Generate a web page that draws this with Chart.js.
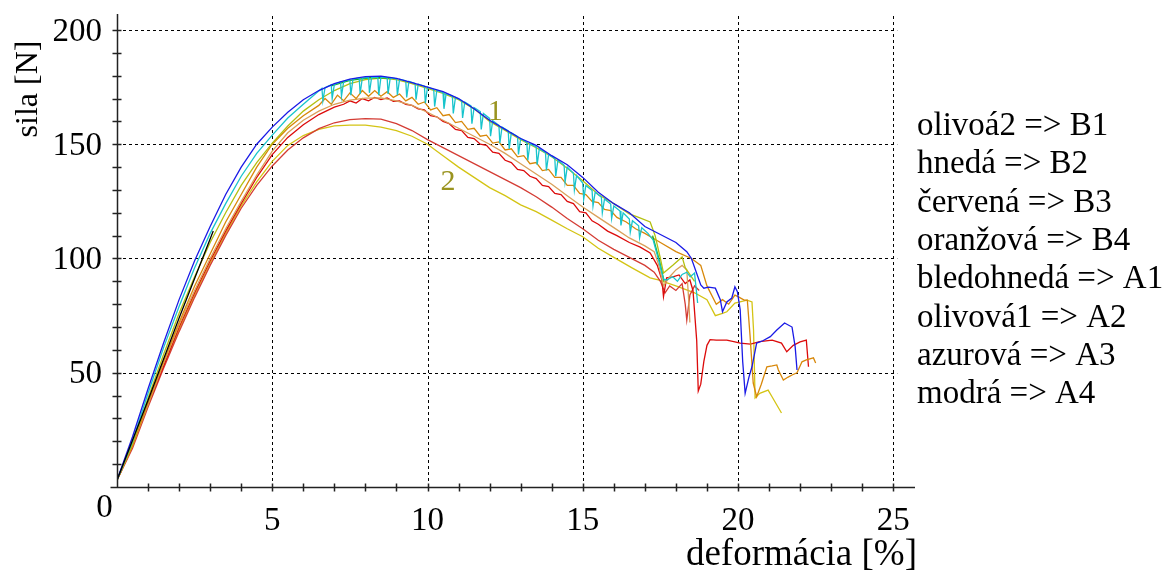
<!DOCTYPE html>
<html>
<head>
<meta charset="utf-8">
<script src="https://cdn.jsdelivr.net/npm/chart.js@4/dist/chart.umd.min.js"></script>
<style>
  body { margin: 0; background: #fff; }
  #wrap { width: 1172px; height: 573px; }
</style>
</head>
<body>
<div id="wrap"><canvas id="myChart" width="1172" height="573"></canvas></div>
<script>
// tick labels
const xTicks = [0, 5, 10, 15, 20, 25];
const yTicks = [50, 100, 150, 200];
const xTitle = 'deformácia [%]';
const yTitle = 'sila [N]';

const legendLabels = [
  'olivoá2 => B1', 'hnedá => B2', 'červená => B3', 'oranžová => B4',
  'bledohnedá => A1', 'olivová1 => A2', 'azurová => A3', 'modrá => A4',
];

// curve group markers: [x, y, text]
const groupMarks = [[12.18, 164, '1'], [10.66, 133.5, '2']];

// measured curves, [deformácia, sila]
const modra = [[0,3],[0.5,22],[1,43],[1.5,63],[2,82],[2.5,99],[3,114],[3.5,128],[4,140],[4.5,150],[5,157.5],[5.5,164],[6,169.5],[6.5,173.5],[7,176.5],[7.5,178.5],[8,179.6],[8.5,179.8],[9,178.8],[9.5,177],[10,175],[10.5,173],[11,170],[11.5,165.5],[12,160.5],[12.5,156.5],[13,152.5],[13.5,149.5],[14,145],[14.5,141],[15,135.5],[15.5,129],[16,124],[16.5,120],[17,114],[17.5,110.5],[18,107],[18.35,103],[18.5,100],[18.8,88.4],[18.9,87],[19.05,87.5],[19.27,87],[19.43,82],[19.5,76.7],[19.64,81],[19.8,82.7],[19.9,87.6],[19.98,85.5],[20.07,77.5],[20.15,55],[20.23,41],[20.35,48],[20.45,52.6],[20.6,63],[20.8,64],[21.04,65.8],[21.25,68.7],[21.5,71.8],[21.74,70],[21.84,61.4],[21.9,51.2]];

// sawtooth record: top, spike down, recovery
const azurova = [[0,3],[0.5,20],[1,41],[1.5,61],[2,79],[2.5,96],[3,111],[3.5,124],[4,136],[4.5,146],[5,154],[5.5,161.5],[6,167.5],[6.3,171],
  [6.6,174.5],[6.63,169],[6.7,174.8],[6.9,176],[6.93,170],[7,176.2],[7.2,177.3],[7.23,171],[7.3,177.5],[7.5,178.3],[7.53,171.5],[7.6,178.5],
  [7.8,179],[7.83,172],[7.9,179],[8.1,179.3],[8.13,172.5],[8.2,179.3],[8.4,179.4],[8.43,171.5],[8.5,179.4],[8.7,179.2],[8.73,172],[8.8,179.1],
  [9,178.6],[9.03,171.5],[9.1,178.4],[9.3,177.8],[9.33,170.5],[9.4,177.5],[9.6,176.6],[9.63,169.5],[9.7,176.3],[9.9,175.4],[9.93,168],[10,175],
  [10.2,174],[10.23,166.5],[10.3,173.6],[10.5,172.6],[10.53,165.5],[10.6,172.1],[10.8,171.1],[10.83,163.5],[10.9,170.5],
  [11.1,169.1],[11.13,161.5],[11.2,168.5],[11.4,166.8],[11.43,159],[11.5,166],[11.7,164.3],[11.73,156.5],[11.8,163.5],
  [12,161.3],[12.03,153.5],[12.1,160.3],[12.3,158.3],[12.33,150.5],[12.4,157.5],[12.6,155.8],[12.63,148],[12.7,155],
  [12.9,153.3],[12.93,145.5],[13,152.5],[13.2,150.8],[13.23,143],[13.3,150.2],[13.5,148.8],[13.53,141],[13.6,148],
  [13.8,146.3],[13.83,138.5],[13.9,145.5],[14.1,143.8],[14.13,136],[14.2,143],[14.4,140.8],[14.43,133.5],[14.5,140],
  [14.7,137.3],[14.73,130],[14.8,136.3],[15,133],[15.03,126],[15.1,132],[15.3,129.8],[15.33,123],[15.4,129],
  [15.6,126.8],[15.63,120],[15.7,126],[15.9,123.8],[15.93,117.5],[16,123],[16.2,120.8],[16.23,114.5],[16.3,120],
  [16.5,117.3],[16.53,111.5],[16.6,116.5],[16.8,114.3],[16.83,109],[16.9,113.5],
  [17.1,111],[17.27,108],[17.45,99],[17.6,91],[17.7,90.6],[17.9,92],[18.05,90],[18.2,93],[18.35,94],[18.46,92],[18.6,93.6],[18.7,80.5]];

const olivoa2 = [[0,3],[0.5,19],[1,39],[1.5,58],[2,76],[2.5,92],[3,107],[3.5,120],[4,132],[4.5,142],[5,150.5],[5.5,158],[6,164.5],[6.5,169.5],[7,173.5],[7.5,176.5],[8,178.3],[8.5,178.9],[9,178.3],[9.5,176.5],[10,174.5],[10.5,172.3],[11,169.5],[11.5,165.5],[12,160],[12.5,156],[13,152],[13.5,148.5],[14,144.5],[14.5,139.5],[15,134],[15.5,128],[16,124],[16.5,119.5],[16.8,118],[17.17,116],[17.33,110],[17.5,100],[17.6,93.6],[17.9,97],[18.2,100.7],[18.3,96],[18.6,90]];

const zelena = [[6.9,175.5],[7.5,178],[8.2,179.2],[8.8,179],[null,null],[17.25,110],[17.45,100],[17.62,90]];

const oranzova = [[0,3],[0.5,18],[1,37],[1.5,55],[2,72],[2.5,88],[3,102],[3.5,116],[4,128],[4.5,140],[5,150],[5.5,157],[6,162.5],[6.5,167],
  [6.7,170],[6.9,167.5],[7.1,171.5],[7.3,169],[7.5,172.5],[7.7,170],[7.9,173.5],[8.1,171],[8.3,173.5],[8.5,171],[8.7,173],[8.9,170.5],
  [9.1,172],[9.3,169],[9.5,170.5],[9.7,167.5],[9.9,168.5],[10.1,165],[10.3,166],[10.5,162.5],[10.7,163],[10.9,159.5],[11.1,160],
  [11.3,156.5],[11.5,157],[11.7,153.5],[11.9,154],[12.1,150.5],[12.3,151],[12.5,147.5],[12.7,148],[12.9,144.5],[13.1,145],
  [13.3,141.5],[13.5,142],[13.7,138.5],[13.9,139],[14.1,135.5],[14.3,135.5],[14.5,132],[14.7,132],[14.9,128.5],[15.1,128],
  [15.3,125],[15.5,124.5],[15.7,121.5],[15.9,121],[16.1,118],[16.4,116],[16.7,113],[17,111],[17.5,107],[18,103],[18.5,100],
  [18.8,97],[19,88],[19.3,80],[19.5,82],[19.7,80],[19.9,84],[20,83.3],[20.2,81.8],[20.3,81.8],[20.39,65.8],[20.49,45.5],[20.6,39.5],
  [20.75,45],[20.93,52.6],[21.1,53],[21.25,53.4],[21.3,51.2],[21.46,46.8],[21.6,48],[21.74,49],[21.9,50],[22.06,54.8],[22.2,55.6],[22.43,56.5],[22.5,54.3]];

const bledohneda = [[0,3],[0.5,18],[1,36],[1.5,54],[2,71],[2.5,86],[3,100],[3.5,113],[4,125],[4.5,136.5],[5,147],[5.5,155],[6,160.5],[6.5,164.5],[7,167.5],[7.5,169.3],[8,170.2],[8.5,170.3],[9,169],[9.5,167],[10,164],[10.5,160.5],[11,157],[11.5,153.5],[12,150],[12.5,146],[13,141.5],[13.5,137],[14,132.5],[14.5,127.5],[15,122.5],[15.5,118],[16,113.5],[16.5,109],[17,105.5],[17.3,103],[17.45,97],[17.6,88],[17.8,92],[18,95],[18.2,97],[18.35,95],[18.42,80],[18.45,72]];

const cervena = [[0,3],[0.5,18],[1,36],[1.5,53],[2,70],[2.5,85],[3,99],[3.5,112],[4,124],[4.5,135.5],[5,145.5],[5.5,153],[6,158.5],[6.5,163],[7,166.2],[7.3,167.5],[7.5,169],[7.7,168],[7.9,170],[8.1,169],[8.3,170.5],[8.5,169.5],[8.7,170.3],[8.9,168.8],[9.1,169],[9.3,167.5],[9.5,167],[9.7,165.5],[9.9,165],[10.1,162.5],[10.3,162],[10.5,160],[10.7,159],[10.9,156.5],[11.1,156],[11.3,153],[11.5,152.5],[11.7,150],[11.9,149.5],[12.1,146.5],[12.3,146],[12.5,143],[12.7,142],[12.9,139],[13.1,138.5],[13.3,136],[13.5,135],[13.7,132],[13.9,131.5],[14.1,128.5],[14.3,128],[14.5,125],[14.7,124],[14.9,120.5],[15.1,120],[15.3,116.5],[15.5,115],[15.8,112],[16.1,110],[16.5,107],[16.85,105],[17.17,102.4],[17.4,97],[17.55,90.6],[17.6,83.3],[17.7,91.5],[17.9,92],[18.1,92.8],[18.3,89],[18.45,90.6],[18.55,86],[18.67,64],[18.72,42],[18.8,45],[18.9,55],[19,62],[19.1,64.5],[19.3,64.3],[19.64,64.3],[19.9,63.5],[20.07,63],[20.4,62.5],[20.7,63.6],[21.1,64.3],[21.4,63],[21.57,59.2],[21.78,62],[22,63.5],[22.2,64.3],[22.27,52.6]];

const hneda = [[0,3],[0.5,17],[1,35],[1.5,52],[2,68],[2.5,83],[3,97],[3.5,110],[4,122],[4.5,132],[5,140.5],[5.5,147.5],[6,152.8],[6.5,156.8],[7,159.4],[7.5,160.8],[8,161.2],[8.5,161],[9,159],[9.5,156],[10,152],[10.5,148.5],[11,145],[11.5,141.5],[12,138],[12.5,134.5],[13,131],[13.5,127],[14,122.5],[14.5,117.5],[15,113],[15.5,108],[16,104],[16.5,100.5],[17,97],[17.3,94],[17.5,90],[17.65,85],[17.8,88],[18,86],[18.2,89],[18.3,80],[18.35,73],[18.45,84],[18.6,88],[18.75,86]];

const olivova1 = [[0,3],[0.5,18],[1,36],[1.5,53],[2,69],[2.5,84],[3,98],[3.5,111],[4,123],[4.5,133.5],[5,142.5],[5.5,149.5],[6,153.8],[6.5,156.5],[7,158],[7.5,158.4],[8,158.4],[8.5,157.5],[9,156],[9.5,153.5],[10,150],[10.5,145],[11,140],[11.5,135.5],[12,131],[12.5,127.5],[13,123.5],[13.5,120.5],[14,116.8],[14.5,113],[15,109.5],[15.5,104.5],[16,100.5],[16.6,95.8],[17.17,91.5],[17.43,90.6],[18,88],[18.6,85],[19,82],[19.27,75],[19.5,76],[19.64,76.7],[19.9,80.5],[20.29,81.8],[20.45,81],[20.5,68.7],[20.55,39],[20.7,41],[20.97,42.4],[21.1,39.4],[21.4,32.4]];

// common elastic start
const nabeh = [[0,3],[1,38],[2,74],[3.1,112]];

const series = [
  { data: nabeh, color: '#000000' },
  { data: modra, color: '#1a1ae6' },
  { data: azurova, color: '#18c4cc' },
  { data: zelena, color: '#10b020' },
  { data: olivoa2, color: '#b4c010' },
  { data: oranzova, color: '#d8880a' },
  { data: bledohneda, color: '#d9a05a' },
  { data: cervena, color: '#dc0a0a' },
  { data: hneda, color: '#d43c34' },
  { data: olivova1, color: '#d4c414' },
];

const serif = '"Liberation Serif", "Times New Roman", serif';

const axesPlugin = {
  id: 'axes',
  beforeDatasetsDraw(chart) {
    const { ctx, scales: { x, y } } = chart;
    ctx.save();
    ctx.strokeStyle = '#000';
    ctx.lineWidth = 1;
    ctx.setLineDash([3, 3]);
    xTicks.slice(1).forEach(v => {
      const px = Math.round(x.getPixelForValue(v)) + 0.5;
      ctx.beginPath();
      ctx.moveTo(px, y.getPixelForValue(0));
      ctx.lineTo(px, chart.chartArea.top);
      ctx.stroke();
    });
    yTicks.forEach(v => {
      const py = Math.round(y.getPixelForValue(v)) + 0.5;
      ctx.beginPath();
      ctx.moveTo(x.getPixelForValue(0), py);
      ctx.lineTo(x.getPixelForValue(25) + 4, py);
      ctx.stroke();
    });
    ctx.restore();
  },
  afterDatasetsDraw(chart) {
    const { ctx, chartArea, scales: { x, y } } = chart;
    const x0 = Math.round(x.getPixelForValue(0)) + 0.5;
    const y0 = Math.round(y.getPixelForValue(0)) + 0.5;
    ctx.save();
    ctx.strokeStyle = '#222';
    ctx.lineWidth = 1.5;
    ctx.beginPath();
    ctx.moveTo(x0 - 7, y0);
    ctx.lineTo(chartArea.right, y0);
    ctx.moveTo(x0, y0);
    ctx.lineTo(x0, chartArea.top);
    for (let v = 1; v <= 25; v++) {
      const px = Math.round(x.getPixelForValue(v)) + 0.5;
      ctx.moveTo(px, y0 - 4);
      ctx.lineTo(px, y0 + 4);
    }
    for (let v = 10; v <= 200; v += 10) {
      const py = Math.round(y.getPixelForValue(v)) + 0.5;
      ctx.moveTo(x0 - 5, py);
      ctx.lineTo(x0 + 4, py);
    }
    ctx.stroke();

    ctx.fillStyle = '#000';
    ctx.font = '33px ' + serif;
    ctx.textAlign = 'center';
    ctx.textBaseline = 'alphabetic';
    xTicks.forEach(v => {
      if (v === 0) ctx.fillText('0', x0 - 13, 517);
      else ctx.fillText(String(v), x.getPixelForValue(v), 530);
    });
    ctx.textAlign = 'right';
    ctx.textBaseline = 'middle';
    yTicks.forEach(v => ctx.fillText(String(v), 102, y.getPixelForValue(v) + 2));

    ctx.font = '37px ' + serif;
    ctx.textAlign = 'right';
    ctx.textBaseline = 'alphabetic';
    ctx.fillText(xTitle, 917, 565);

    ctx.font = '32px ' + serif;
    ctx.translate(29, 89);
    ctx.rotate(-Math.PI / 2);
    ctx.textAlign = 'center';
    ctx.textBaseline = 'middle';
    ctx.fillText(yTitle, 0, 0);
    ctx.restore();

    ctx.save();
    ctx.fillStyle = '#9a9420';
    ctx.font = '30px ' + serif;
    ctx.textAlign = 'center';
    ctx.textBaseline = 'middle';
    groupMarks.forEach(([mx, my, t]) => ctx.fillText(t, x.getPixelForValue(mx), y.getPixelForValue(my)));

    ctx.fillStyle = '#000';
    ctx.font = '33px ' + serif;
    ctx.textAlign = 'left';
    ctx.textBaseline = 'alphabetic';
    legendLabels.forEach((t, i) => ctx.fillText(t, 917, 135 + i * 38.3));
    ctx.restore();
  },
};

new Chart(document.getElementById('myChart').getContext('2d'), {
  type: 'line',
  data: {
    datasets: series.map(s => ({
      data: s.data,
      borderColor: s.color,
      backgroundColor: s.color,
      borderWidth: 1.3,
      pointRadius: 0,
      tension: 0,
      spanGaps: false,
    })),
  },
  options: {
    responsive: false,
    animation: false,
    layout: { padding: { left: 117, right: 257, top: 14, bottom: 86 } },
    scales: {
      x: { type: 'linear', min: 0, max: 25.7, display: false },
      y: { type: 'linear', min: 0, max: 207, display: false },
    },
    plugins: { legend: { display: false }, tooltip: { enabled: false } },
  },
  plugins: [axesPlugin],
});
</script>
</body>
</html>
